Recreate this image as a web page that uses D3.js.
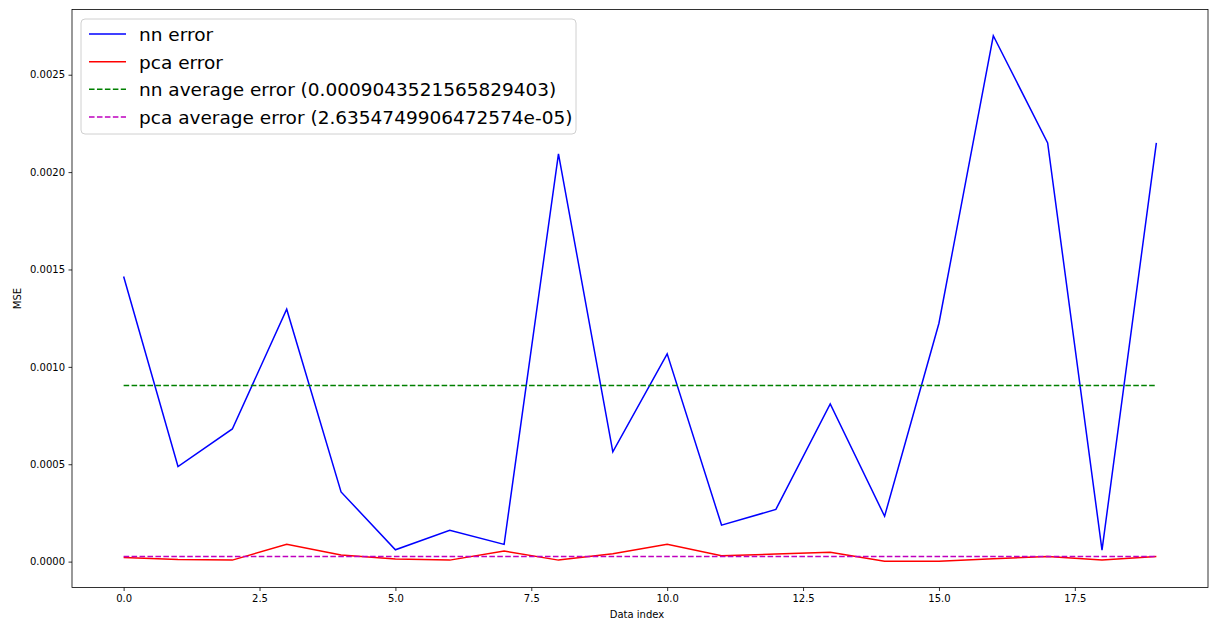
<!DOCTYPE html>
<html>
<head>
<meta charset="utf-8">
<script src="https://cdn.jsdelivr.net/npm/d3@7"></script>
<style>
  body { margin: 0; background: #fff; }
  text { font-family: "DejaVu Sans", sans-serif; }
</style>
</head>
<body>
<div id="wrapper"></div>
<script>
// values
const dataIndex = d3.range(20);
const nnError = [0.001464, 0.000488, 0.000681, 0.001296, 0.000358, 0.0000608, 0.000161, 0.0000886, 0.002094, 0.000564,
                 0.001067, 0.0001875, 0.000268, 0.000810, 0.000233, 0.001224, 0.002700, 0.002150, 0.0000592, 0.002150];
const pcaError = [0.0000216, 0.0000113, 0.0000077, 0.0000886, 0.0000335, 0.0000129, 0.0000077, 0.0000541, 0.0000077, 0.0000407,
                  0.0000886, 0.0000299, 0.0000386, 0.0000479, 0.000002, 0.000002, 0.000015, 0.0000258, 0.0000077, 0.0000258];
const nnAverage = 0.0009043521565829403;
const pcaAverage = 2.6354749906472574e-05;
const xTicks = [0, 2.5, 5, 7.5, 10, 12.5, 15, 17.5];
const yTicks = [0, 0.0005, 0.001, 0.0015, 0.002, 0.0025];
const legendLabels = [
    "nn error",
    "pca error",
    "nn average error (0.0009043521565829403)",
    "pca average error (2.6354749906472574e-05)"
];

function drawChart() {
    let dimensions = {
        width: 1211,
        height: 623,
        margin: { top: 9.5, right: 3, bottom: 35.5, left: 72 }
    };
    dimensions.bounded_width = dimensions.width - dimensions.margin.left - dimensions.margin.right;
    dimensions.bounded_height = dimensions.height - dimensions.margin.top - dimensions.margin.bottom;

    const wrapper = d3.select("#wrapper")
        .append("svg")
        .attr("width", dimensions.width)
        .attr("height", dimensions.height);

    const bounds = wrapper.append("g")
        .attr("transform", `translate(${dimensions.margin.left},${dimensions.margin.top})`);

    // matplotlib style 5% margins
    const xPad = 0.05 * (d3.max(dataIndex) - d3.min(dataIndex));
    const xScale = d3.scaleLinear()
        .domain([d3.min(dataIndex) - xPad, d3.max(dataIndex) + xPad])
        .range([0, dimensions.bounded_width]);

    const allY = nnError.concat(pcaError, [nnAverage, pcaAverage]);
    const yMin = d3.min(allY), yMax = d3.max(allY);
    const yPad = 0.05 * (yMax - yMin);
    const yScale = d3.scaleLinear()
        .domain([yMin - yPad, yMax + yPad])
        .range([dimensions.bounded_height, 0]);

    const lineGen = d3.line()
        .x((d, i) => xScale(dataIndex[i]))
        .y(d => yScale(d));

    const series = [
        { values: nnError, color: "#0000ff", dash: null },
        { values: pcaError, color: "#ff0000", dash: null },
        { values: dataIndex.map(() => nnAverage), color: "#008000", dash: "5.55,2.4" },
        { values: dataIndex.map(() => pcaAverage), color: "#bf00bf", dash: "5.55,2.4" }
    ];

    series.forEach(s => {
        bounds.append("path")
            .datum(s.values)
            .attr("fill", "none")
            .attr("stroke", s.color)
            .attr("stroke-width", 1.5)
            .attr("stroke-dasharray", s.dash)
            .attr("d", lineGen);
    });

    // axes
    const xAxis = bounds.append("g")
        .attr("transform", `translate(0,${dimensions.bounded_height})`)
        .call(d3.axisBottom(xScale).tickValues(xTicks).tickFormat(d3.format(".1f")).tickSizeOuter(0).tickSize(3.5).tickPadding(3.5));
    const yAxis = bounds.append("g")
        .call(d3.axisLeft(yScale).tickValues(yTicks).tickFormat(d3.format(".4f")).tickSizeOuter(0).tickSize(3.5).tickPadding(3.5));

    [xAxis, yAxis].forEach(a => {
        a.select(".domain").remove();
        a.selectAll("line").attr("stroke", "#000").attr("stroke-width", 0.8);
        a.selectAll("text").attr("font-size", 10).attr("fill", "#000").style("font-family", "DejaVu Sans");
    });

    // frame
    bounds.append("rect")
        .attr("width", dimensions.bounded_width)
        .attr("height", dimensions.bounded_height)
        .attr("fill", "none")
        .attr("stroke", "#000")
        .attr("stroke-width", 0.8);

    // axis labels
    wrapper.append("text")
        .attr("x", 637)
        .attr("y", 618)
        .attr("text-anchor", "middle")
        .attr("font-size", 10)
        .text("Data index");
    wrapper.append("text")
        .attr("transform", `translate(21,${dimensions.margin.top + dimensions.bounded_height / 2}) rotate(-90)`)
        .attr("text-anchor", "middle")
        .attr("font-size", 10)
        .text("MSE");

    // legend
    const legend = wrapper.append("g").attr("transform", "translate(81,19)");
    legend.append("rect")
        .attr("width", 495)
        .attr("height", 115)
        .attr("rx", 4)
        .attr("fill", "#fff")
        .attr("fill-opacity", 0.8)
        .attr("stroke", "#d0d0d0")
        .attr("stroke-width", 1);

    const rowY = d3.scalePoint().domain(legendLabels).range([15, 98]);
    legendLabels.forEach((label, i) => {
        const row = legend.append("g").attr("transform", `translate(0,${rowY(label)})`);
        row.append("line")
            .attr("x1", 8).attr("x2", 45)
            .attr("stroke", series[i].color)
            .attr("stroke-width", 1.5)
            .attr("stroke-dasharray", series[i].dash);
        row.append("text")
            .attr("x", 58)
            .attr("dy", "0.38em")
            .attr("font-size", 18.5)
            .attr("fill", "#000")
            .text(label);
    });
}

drawChart();
</script>
</body>
</html>
